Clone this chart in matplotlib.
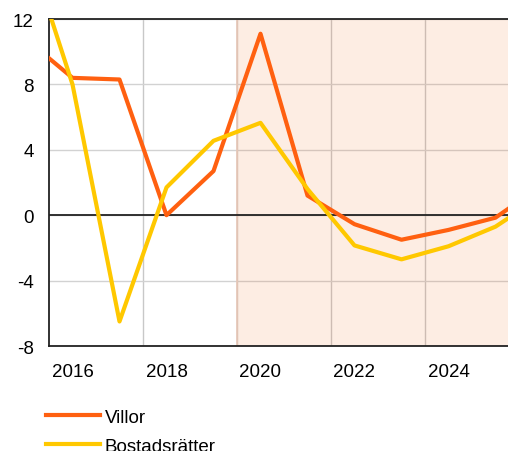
import numpy as np
import matplotlib
matplotlib.use("Agg")
import matplotlib.pyplot as plt
from matplotlib.ticker import FixedLocator

plt.rcParams['font.family'] = ['Liberation Sans', 'DejaVu Sans']
plt.rcParams['font.size'] = 13.5
plt.rcParams['axes.unicode_minus'] = False

# annual values, drawn at mid-year
years = [2015, 2016, 2017, 2018, 2019, 2020, 2021, 2022, 2023, 2024, 2025, 2026]
villor = [10.8, 8.4, 8.3, 0.0, 2.7, 11.1, 1.2, -0.55, -1.5, -0.9, -0.15, 1.85]
bostadsratter = [16.9, 8.0, -6.5, 1.7, 4.55, 5.65, 1.6, -1.85, -2.7, -1.9, -0.7, 1.2]
tick_years = [2016, 2018, 2020, 2022, 2024]
forecast_start = 2020

x = np.array(years) + 0.5

fig = plt.figure(figsize=(5.08, 4.52), dpi=100)
ax = fig.add_axes([49 / 508, 1 - 347 / 452, 1 - 49 / 508, 327 / 452])

ax.plot(x, villor, color='#FF6010', lw=3.0, label='Villor', zorder=4)
ax.plot(x, bostadsratter, color='#FFC800', lw=3.0, label='Bostadsrätter', zorder=4)

# forecast shading, on top of grid
ax.axvspan(forecast_start, 2030, color='#F26B1D', alpha=0.12, lw=0, zorder=2)
ax.axvline(forecast_start, color='#E6C6B6', lw=1.2, zorder=2)
ax.axhline(0, color='#222222', lw=1.3, zorder=3)

ax.set_xlim(2016, 2016 + (508 - 49) / 47)
ax.set_ylim(-8, 12)
ax.set_yticks(np.arange(-8, 13, 4))
ax.set_xticks([t + 0.5 for t in tick_years])
ax.set_xticklabels([str(t) for t in tick_years])
ax.xaxis.set_minor_locator(FixedLocator([2018, 2020, 2022, 2024]))
ax.tick_params(which='both', length=0)
ax.tick_params(axis='y', pad=11)
ax.tick_params(axis='x', pad=12)
ax.grid(True, which='minor', axis='x', color='#C8C8C8', lw=1.0, zorder=1)
ax.grid(True, which='major', axis='y', color='#D2D2D2', lw=1.0, zorder=1)
ax.set_axisbelow(True)

ax.spines['right'].set_visible(False)
for s in ['left', 'bottom', 'top']:
    ax.spines[s].set_color('#222222')
    ax.spines[s].set_linewidth(1.3)

h, l = ax.get_legend_handles_labels()
fig.legend(h, l, loc='upper left', bbox_to_anchor=(38 / 508, 1 - 402 / 452),
           borderaxespad=0, frameon=False, handlelength=2.9, handletextpad=0.27,
           labelspacing=0.65, fontsize=13.5)

fig.savefig('out.png', dpi=100)
